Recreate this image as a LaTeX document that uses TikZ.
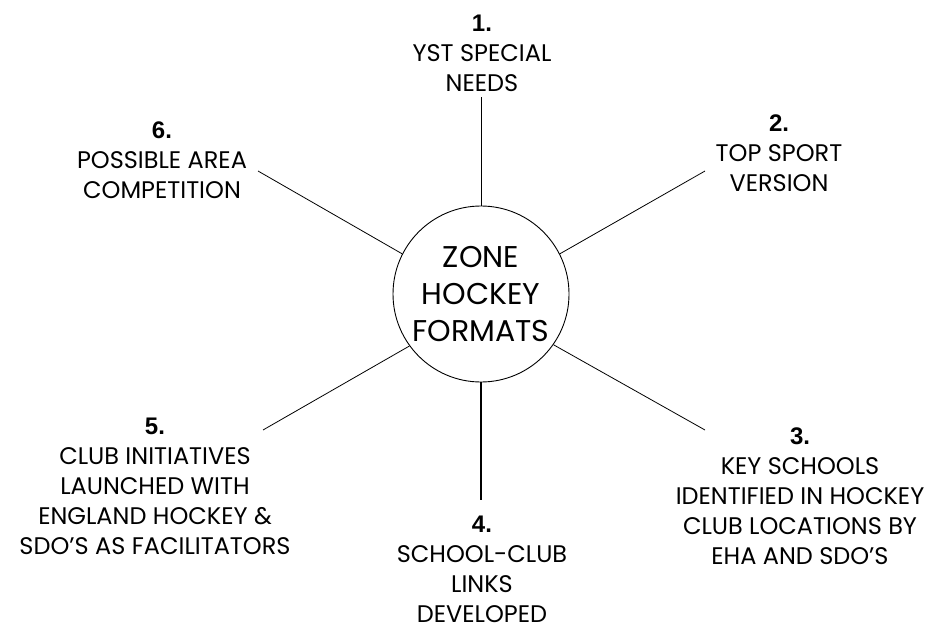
\documentclass[tikz,border=0pt]{standalone}
\usepackage{fontspec}
\setmainfont{Poppins}
\newfontfamily\numfont{Liberation Sans}
\usetikzlibrary{positioning}

\newcommand{\numtxt}[1]{{\numfont\bfseries #1}}

\begin{document}
\begin{tikzpicture}[x=1pt, y=-1pt,
      every node/.style={font=\fontsize{24}{30}\selectfont, text=black},
      hub/.style={circle, draw, line width=0.9pt, minimum size=176pt, inner sep=0pt,
                  align=center, font=\fontsize{30}{37}\selectfont},
      lbl/.style={anchor=north, inner sep=0pt, align=center},
      spoke/.style={draw, line width=0.8pt},
      spokebold/.style={spoke, line width=2.6pt},
    ]
      \useasboundingbox (0,0) rectangle (936,626);

      \node[hub] (hub) at (481,294) {ZONE\\HOCKEY\\FORMATS};

      % labels round the hub
      \node[lbl] (lbl1) at (482,15) {\numtxt{1.}\\YST SPECIAL\\NEEDS};
      \node[lbl] (lbl2) at (779,115) {\numtxt{2.}\\TOP SPORT\\VERSION};
      \node[lbl] (lbl3) at (800,428) {\numtxt{3.}\\KEY SCHOOLS\\IDENTIFIED IN HOCKEY\\CLUB LOCATIONS BY\\EHA AND SDO'S};
      \node[lbl] (lbl4) at (482,516) {\numtxt{4.}\\SCHOOL-CLUB\\LINKS\\DEVELOPED};
      \node[lbl] (lbl5) at (155,418) {\numtxt{5.}\\CLUB INITIATIVES\\LAUNCHED WITH\\ENGLAND HOCKEY \&\\SDO'S AS FACILITATORS};
      \node[lbl] (lbl6) at (162,122) {\numtxt{6.}\\POSSIBLE AREA\\COMPETITION};

      % free ends of the spokes
      \coordinate (e1) at (481,97);
      \coordinate (e2) at (705,171);
      \coordinate (e3) at (705,430);
      \coordinate (e4) at (481,500);
      \coordinate (e5) at (263,430);
      \coordinate (e6) at (258,171);

      % spokes
      \draw[spoke] (hub.90) -- (e1);
      \draw[spoke] (hub.27) -- (e2);
      \draw[spoke] (hub.-35) -- (e3);
      \draw[spokebold] (hub.south) -- (e4);
      \draw[spoke] (hub.216) -- (e5);
      \draw[spoke] (hub.153) -- (e6);

    \end{tikzpicture}
\end{document}
